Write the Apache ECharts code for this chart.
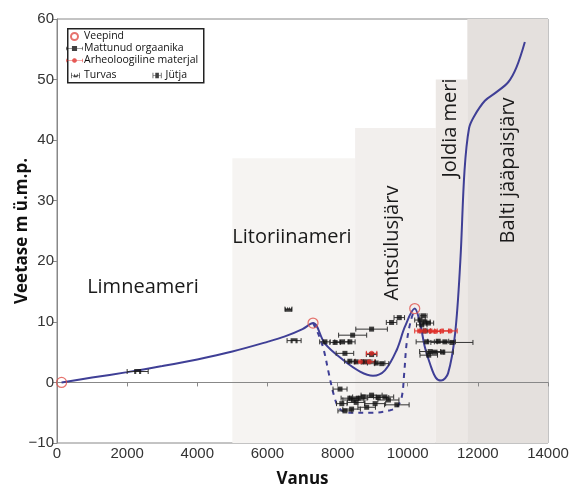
<!DOCTYPE html>
<html><head><meta charset="utf-8">
<script src="https://cdn.jsdelivr.net/npm/echarts@6/dist/echarts.min.js"></script>
<style>html,body{margin:0;padding:0;background:#fff}#c{width:571px;height:494px}</style>
</head><body><div id="c"></div>
<script>
// ---- Data ----
const regionNames = ['Litoriinameri', 'Antsülusjärv', 'Joldia meri', 'Balti jääpaisjärv'];
const regionStart = [5000, 8500, 10800, 11700];
const regionEnd   = [8500, 10800, 11700, 14000];
const regionTop   = [37, 42, 50, 60];

const curveX = [130, 1000, 2000, 3000, 4000, 5000, 6000, 6500, 7000, 7300, 7640, 8160, 8640, 9010, 9350, 9690, 9920, 10200, 10350, 10490, 10640, 10800, 10950, 11150, 11350, 11500, 11620, 11750, 11900, 12200, 12500, 12870, 13100, 13340];
const curveY = [0, 0.8, 1.7, 2.7, 3.8, 5.1, 6.7, 7.6, 8.8, 9.8, 6.4, 3.7, 1.8, 1.1, 2.0, 5.4, 9.2, 12.2, 9.8, 5.8, 3.0, 0.8, 0.3, 1.5, 8, 20, 35, 42, 44, 46.5, 47.8, 49.6, 52, 56.2];

const dashX = [7300, 7450, 7600, 7750, 7900, 8050, 8300, 9000, 9500, 9700, 9830, 9900, 9970, 10080, 10200];
const dashY = [9.8, 8.0, 5.5, 1.5, -2.2, -4.3, -5.0, -5.0, -4.6, -4.0, -2.4, 1.5, 6.5, 10, 12.2];

const veepindX = [130, 7300, 10200];
const veepindY = [0, 9.8, 12.2];

const orgX = [7640, 7930, 8120, 8350, 8430, 8970, 9540, 9760, 8210, 8350, 8530, 8730, 8880, 9100, 9260, 8070, 8350, 8450, 8590, 8730, 8970, 9160, 9350, 9450, 9690, 8120, 8210, 8400, 8830, 9070, 8530, 10350, 10490, 10400, 10590, 10450, 10540, 10870, 11060, 11260, 10640, 10780, 11000, 10600, 8970, 10500];
const orgY = [6.7, 6.6, 6.7, 6.7, 7.8, 8.8, 9.9, 10.7, 4.8, 3.5, 3.4, 3.4, 3.4, 3.2, 3.1, -1.1, -2.6, -2.9, -2.6, -2.4, -2.1, -2.5, -2.4, -2.9, -3.7, -3.5, -4.7, -4.4, -4.1, -3.5, -3.3, 10.3, 10.0, 9.5, 9.8, 11.0, 6.7, 6.8, 6.7, 6.6, 5.1, 5.0, 5.0, 4.5, 4.6, 8.5];
const orgErr = [150, 150, 200, 150, 400, 450, 150, 150, 250, 150, 200, 250, 200, 250, 200, 200, 250, 300, 250, 300, 300, 300, 250, 300, 350, 150, 200, 250, 250, 300, 250, 150, 150, 150, 150, 100, 300, 300, 300, 600, 300, 250, 300, 250, 150, 150];

const arhX = [8970, 8650, 8900, 10350, 10490, 10640, 10780, 10970, 11210];
const arhY = [4.8, 3.4, 3.4, 8.5, 8.5, 8.5, 8.4, 8.5, 8.5];
const arhErr = [150, 150, 150, 150, 200, 200, 150, 200, 200];

const turvasX = [6600];
const turvasY = [12.1];
const turvasErr = [100];

const jutjaX = [2300, 6760];
const jutjaY = [1.8, 6.9];
const jutjaErr = [300, 200];

const xTicks = [0, 2000, 4000, 6000, 8000, 10000, 12000, 14000];
const yTicks = [-10, 0, 10, 20, 30, 40, 50, 60];

// ---- Build ----
const zip = (a, b, c) => a.map((v, i) => c ? [v, b[i], c[i]] : [v, b[i]]);
const FONT = 'Liberation Sans, Arial, sans-serif';
const LFONT = '"Open Sans", "Noto Sans", sans-serif';

// label anchors (style config, data coordinates)
const regionLabels = [
  { text: 'Limneameri', x: 2450, y: 15.7, rot: 0 },
  { text: 'Litoriinameri', x: 6700, y: 24, rot: 0 },
  { text: 'Antsülusjärv', x: 9550, y: 23, rot: Math.PI / 2 },
  { text: 'Joldia meri', x: 11200, y: 42, rot: Math.PI / 2 },
  { text: 'Balti jääpaisjärv', x: 12860, y: 35, rot: Math.PI / 2 }
];
const regionColors = ['#f6f4f2', '#f2efed', '#ece8e5', '#e4e0dd'];

function errBar(color) {
  return function (params, api) {
    const x = api.value(0), y = api.value(1), e = api.value(2);
    const p0 = api.coord([x - e, y]), p1 = api.coord([x + e, y]);
    const st = { stroke: color, lineWidth: 1 };
    return { type: 'group', children: [
      { type: 'line', shape: { x1: p0[0], y1: p0[1], x2: p1[0], y2: p1[1] }, style: st },
      { type: 'line', shape: { x1: p0[0], y1: p0[1] - 2.5, x2: p0[0], y2: p0[1] + 2.5 }, style: st },
      { type: 'line', shape: { x1: p1[0], y1: p1[1] - 2.5, x2: p1[0], y2: p1[1] + 2.5 }, style: st }
    ]};
  };
}
const barIcon = 'path://M0,2V6H0.8V4.4H7V7H13V4.4H19.2V6H20V2H19.2V3.6H13V1H7V3.6H0.8V2Z';
const barIconRound = 'path://M0,2V6H0.8V4.4H7.1A3,3 0 0 0 12.9,4.4H19.2V6H20V2H19.2V3.6H12.9A3,3 0 0 0 7.1,3.6H0.8V2Z';
const turvasSym = 'path://M0,0L2,3L4,0L5,3L6,0L8,3L10,0V6H0Z';
const jutjaSym = 'path://M0,0H10V6H7V3H3V6H0Z';
const turvasIcon = 'path://M0,1V7H0.8V4.4H3L4,2L5,4.4H6L7,2L8,4.4H9.2V7H10V1H9.2V3.6H8L7,6H3L2,3.6H0.8V1Z';
const jutjaIcon = 'path://M0,1V7H0.8V4.4H3V7H7V4.4H9.2V7H10V1H9.2V3.6H7V1H3V3.6H0.8V1Z';

const series = [
  { type: 'custom', name: 'regions', silent: true, z: 0,
    data: regionStart.map((s, i) => [s, regionEnd[i], regionTop[i], i]),
    renderItem: function (params, api) {
      const a = api.coord([api.value(0), api.value(2)]);
      const b = api.coord([api.value(1), -10]);
      return { type: 'rect', shape: { x: a[0], y: a[1], width: b[0] - a[0], height: b[1] - a[1] },
        style: { fill: regionColors[api.value(3)] } };
    } },
  { type: 'custom', name: 'labels', silent: true, z: 1,
    data: regionLabels.map((l, i) => [l.x, l.y, i]),
    renderItem: function (params, api) {
      const p = api.coord([api.value(0), api.value(1)]);
      const l = regionLabels[api.value(2)];
      return { type: 'text', x: p[0], y: p[1], rotation: l.rot,
        style: { text: l.text, fill: '#1a1a1a', font: '20px ' + LFONT, align: 'center', verticalAlign: 'middle' } };
    } },
  { type: 'line', name: 'curve', data: zip(curveX, curveY), smooth: 0.35, showSymbol: false, z: 3,
    lineStyle: { color: '#3f3f96', width: 2 } },
  { type: 'line', name: 'dash', data: zip(dashX, dashY), smooth: 0.35, showSymbol: false, z: 3,
    lineStyle: { color: '#3f3f96', width: 2, type: [5, 5] } },
  { type: 'custom', name: 'orgErr', renderItem: errBar('#333'), data: zip(orgX, orgY, orgErr), z: 4 },
  { type: 'custom', name: 'arhErr', renderItem: errBar('#e0302a'), data: zip(arhX, arhY, arhErr), z: 4 },
  { type: 'custom', name: 'turErr', renderItem: errBar('#333'), data: zip(turvasX, turvasY, turvasErr), z: 4 },
  { type: 'custom', name: 'jutErr', renderItem: errBar('#333'), data: zip(jutjaX, jutjaY, jutjaErr), z: 4 },
  { type: 'scatter', name: 'Mattunud orgaanika', data: zip(orgX, orgY), symbol: 'rect', symbolSize: 5,
    itemStyle: { color: '#111' }, z: 5 },
  { type: 'scatter', name: 'Arheoloogiline materjal', data: zip(arhX, arhY), symbol: 'circle', symbolSize: 5,
    itemStyle: { color: '#e0302a' }, z: 6 },
  { type: 'scatter', name: 'Turvas', data: zip(turvasX, turvasY), symbol: turvasSym, symbolSize: [7, 5],
    itemStyle: { color: '#111' }, z: 5 },
  { type: 'scatter', name: 'Jütja', data: zip(jutjaX, jutjaY), symbol: jutjaSym, symbolSize: [7, 5],
    itemStyle: { color: '#111' }, z: 5 },
  { type: 'scatter', name: 'Veepind', data: zip(veepindX, veepindY), symbol: 'circle', symbolSize: 10,
    itemStyle: { color: 'rgba(0,0,0,0)', borderColor: '#e0504a', borderWidth: 1.2 }, z: 7 }
];

const chart = echarts.init(document.getElementById('c'), null, { renderer: 'canvas' });
chart.setOption({
  animation: false,
  backgroundColor: '#fff',
  grid: { left: 57, right: 23, top: 19, bottom: 51, containLabel: false, outerBoundsMode: 'none',
    show: true, borderColor: '#888', borderWidth: 1, backgroundColor: 'transparent' },
  xAxis: {
    type: 'value', min: xTicks[0], max: xTicks[xTicks.length - 1], interval: 2000,
    name: 'Vanus', nameLocation: 'middle', nameGap: 28, nameMoveOverlap: false,
    nameTextStyle: { fontFamily: LFONT, fontWeight: 'bold', fontSize: 17, color: '#111' },
    axisLine: { lineStyle: { color: '#888' } },
    axisTick: { show: true, inside: false, length: 4, lineStyle: { color: '#888' } },
    axisLabel: { fontFamily: FONT, fontSize: 15, color: '#333', margin: 3, formatter: v => String(v) },
    splitLine: { show: false }
  },
  yAxis: {
    type: 'value', min: yTicks[0], max: yTicks[yTicks.length - 1], interval: 10,
    name: 'Veetase m ü.m.p.', nameLocation: 'middle', nameGap: 26, nameRotate: 90, nameMoveOverlap: false,
    nameTextStyle: { fontFamily: LFONT, fontWeight: 'bold', fontSize: 17, color: '#111' },
    axisLine: { show: true, lineStyle: { color: '#888' } },
    axisTick: { show: true, inside: false, length: 4, lineStyle: { color: '#888' } },
    axisLabel: { fontFamily: FONT, fontSize: 15, color: '#333', margin: 3,
      formatter: v => String(v).replace('-', '\u2212') },
    splitLine: { show: false }
  },
  legend: [
    { data: [{ name: 'Veepind' }, { name: 'Mattunud orgaanika', icon: barIcon },
             { name: 'Arheoloogiline materjal', icon: barIconRound, itemStyle: { color: '#e0302a' } }],
      orient: 'vertical', left: 66, top: 31, itemGap: 1, itemWidth: 17, itemHeight: 7, padding: 0, z: 10,
      textStyle: { fontFamily: LFONT, fontSize: 10.5, color: '#111', padding: [0, 0, 0, -4] }, selectedMode: false },
    { data: [{ name: 'Turvas', icon: turvasIcon }, { name: 'Jütja', icon: jutjaIcon }], orient: 'horizontal',
      left: 71, top: 70, itemGap: 36, itemWidth: 9, itemHeight: 7, padding: 0, z: 10,
      textStyle: { fontFamily: LFONT, fontSize: 10.5, color: '#111', padding: [0, 0, 0, -1] }, selectedMode: false }
  ],
  graphic: [
    { type: 'rect', left: 67, top: 28, z: 5, shape: { width: 136, height: 54 },
      style: { fill: '#fff', stroke: '#222', lineWidth: 1.5 } }
  ],
  series: series
});
</script></body></html>
